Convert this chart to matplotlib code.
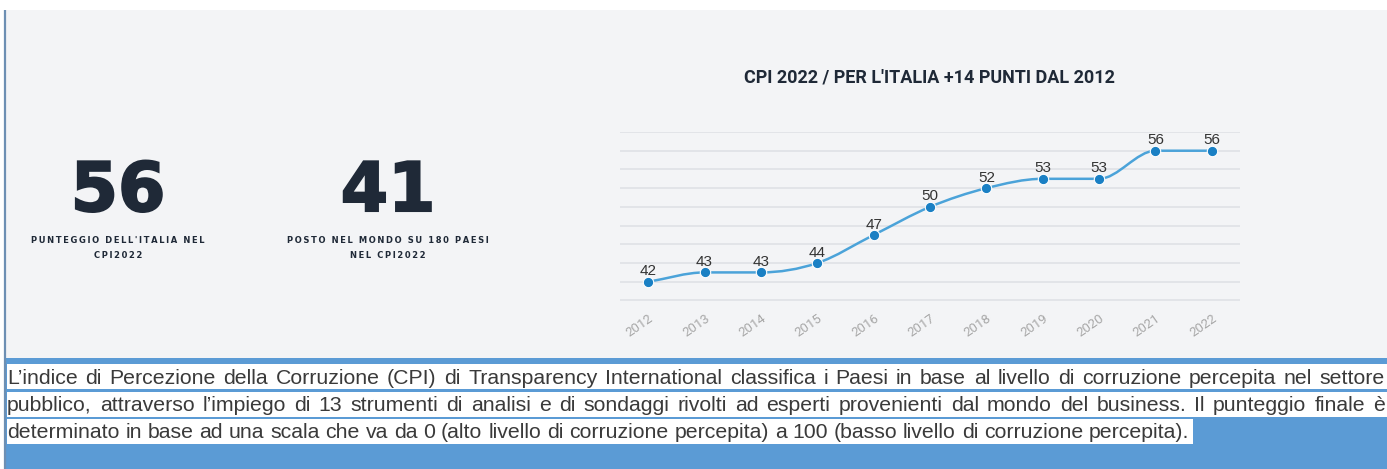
import numpy as np
import matplotlib
matplotlib.use("Agg")
import matplotlib.pyplot as plt
import matplotlib.patheffects as pe
from matplotlib.path import Path
from matplotlib.patches import PathPatch, Rectangle

# data
years = ["2012", "2013", "2014", "2015", "2016", "2017", "2018", "2019", "2020", "2021", "2022"]
scores = [42, 43, 43, 44, 47, 50, 52, 53, 53, 56, 56]
grid_levels = [40, 42, 44, 46, 48, 50, 52, 54, 56, 58]

big_numbers = ["56", "41"]
big_labels = ["PUNTEGGIO DELL'ITALIA NEL\nCPI2022", "POSTO NEL MONDO SU 180 PAESI\nNEL CPI2022"]
title = "CPI 2022 / PER L'ITALIA +14 PUNTI DAL 2012"

para_lines = [
    "L\u2019indice di Percezione della Corruzione (CPI) di Transparency International classifica i Paesi in base al livello di corruzione percepita nel settore",
    "pubblico, attraverso l\u2019impiego di 13 strumenti di analisi e di sondaggi rivolti ad esperti provenienti dal mondo del business. Il punteggio finale \u00e8",
    "determinato in base ad una scala che va da 0 (alto livello di corruzione percepita) a 100 (basso livello di corruzione percepita).",
]

W, H = 1387, 469
fig = plt.figure(figsize=(W / 100, H / 100), dpi=100)
fig.patch.set_facecolor("white")

# background axes in pixel coords
bg = fig.add_axes([0, 0, 1, 1])
bg.set_xlim(0, W)
bg.set_ylim(H, 0)
bg.axis("off")
bg.add_patch(Rectangle((6, 10), W - 6, 348, color="#f3f4f6", lw=0, zorder=1))
bg.add_patch(Rectangle((6, 358), W - 6, H - 358, color="#5b9bd5", lw=0, zorder=1))
bg.plot([5, 5], [10, H], color="#6d8fb3", lw=1.6, solid_capstyle="butt", zorder=2)


def spaced(s):
    return "\n".join("\u2009".join(line) for line in s.split("\n"))


# big numbers
for num, lab, cx in zip(big_numbers, big_labels, [118, 388]):
    bg.text(cx, 192, num, ha="center", va="center", fontsize=49, color="#1f2937",
            family="DejaVu Sans", fontweight="bold", zorder=3,
            path_effects=[pe.withStroke(linewidth=1.5, foreground="#1f2937", joinstyle="miter")])
    bg.text(cx, 248, spaced(lab), ha="center", va="center", fontsize=6, color="#1f2937",
            family="DejaVu Sans", fontweight="bold", linespacing=1.9, zorder=3)

bg.text(929, 78, title, ha="center", va="center", fontsize=13, color="#1f2937",
        family="Roboto", fontweight="bold", zorder=3)

# paragraph, justified
renderer = fig.canvas.get_renderer()
fs = 15.3
x0, x1 = 7, 1385
baselines = [383.5, 411, 438.5]
tops = [364, 392, 419]
for i, (line, yb) in enumerate(zip(para_lines, baselines)):
    words = line.split(" ")
    txts = [bg.text(0, yb, w, ha="left", va="baseline", fontsize=fs, color="#3a3a3a",
                    family="Liberation Sans", zorder=3) for w in words]
    widths = [t.get_window_extent(renderer).width for t in txts]
    if i < 2:
        gap = (x1 - x0 - sum(widths)) / (len(words) - 1)
    else:
        sp = bg.text(0, 0, "a a", fontsize=fs, family="Liberation Sans")
        aa = bg.text(0, 0, "aa", fontsize=fs, family="Liberation Sans")
        gap = sp.get_window_extent(renderer).width - aa.get_window_extent(renderer).width
        sp.remove()
        aa.remove()
    x = x0
    for t, w in zip(txts, widths):
        t.set_x(x)
        x += w + gap
    end = W if i < 2 else x - gap + 3
    bg.add_patch(Rectangle((x0, tops[i]), end - x0, 25.5, color="white", lw=0, zorder=2))

# chart axes
ax = fig.add_axes([620 / W, 1 - 300.5 / H, 620 / W, 168.5 / H])
ax.set_facecolor("none")
xs = np.arange(len(years))
ys = np.array(scores, dtype=float)
ax.set_xlim(-0.5, len(years) - 0.5)
ax.set_ylim(grid_levels[0], grid_levels[-1])
for g in grid_levels:
    ax.axhline(g, color="#e2e4e8", lw=1.4, zorder=0)

# monotone cubic curve (Fritsch-Carlson) built as bezier path
d = np.diff(ys) / np.diff(xs)
m = np.zeros_like(ys)
m[0], m[-1] = d[0], d[-1]
for k in range(1, len(ys) - 1):
    if d[k - 1] * d[k] > 0:
        m[k] = (d[k - 1] + d[k]) / 2
for k in range(len(d)):
    if d[k] == 0:
        m[k] = m[k + 1] = 0
    else:
        a, b = m[k] / d[k], m[k + 1] / d[k]
        s = a * a + b * b
        if s > 9:
            t = 3 / np.sqrt(s)
            m[k], m[k + 1] = t * a * d[k], t * b * d[k]
verts = [(xs[0], ys[0])]
codes = [Path.MOVETO]
for k in range(len(d)):
    h = xs[k + 1] - xs[k]
    verts += [(xs[k] + h / 3, ys[k] + m[k] * h / 3),
              (xs[k + 1] - h / 3, ys[k + 1] - m[k + 1] * h / 3),
              (xs[k + 1], ys[k + 1])]
    codes += [Path.CURVE4] * 3
ax.add_patch(PathPatch(Path(verts, codes), fill=False, edgecolor="#4ba3d9", lw=1.8, zorder=2))
ax.plot(xs, ys, "o", color="#1a80c4", mec="white", mew=0.8, ms=7.5, zorder=3, clip_on=False)

for xv, yv in zip(xs, scores):
    ax.annotate(str(yv), (xv, yv), xytext=(0, 2.5), textcoords="offset points",
                ha="center", va="bottom", fontsize=11, color="#333333",
                family="Liberation Sans", zorder=4)

ax.set_xticks(xs)
ax.set_xticklabels(years, rotation=35, ha="right", rotation_mode="anchor",
                   fontsize=9.5, color="#a8a8a8", family="Roboto")
ax.tick_params(axis="x", length=0, pad=8)
ax.set_yticks([])
for sp_ in ax.spines.values():
    sp_.set_visible(False)

fig.savefig("out.png", dpi=100)
